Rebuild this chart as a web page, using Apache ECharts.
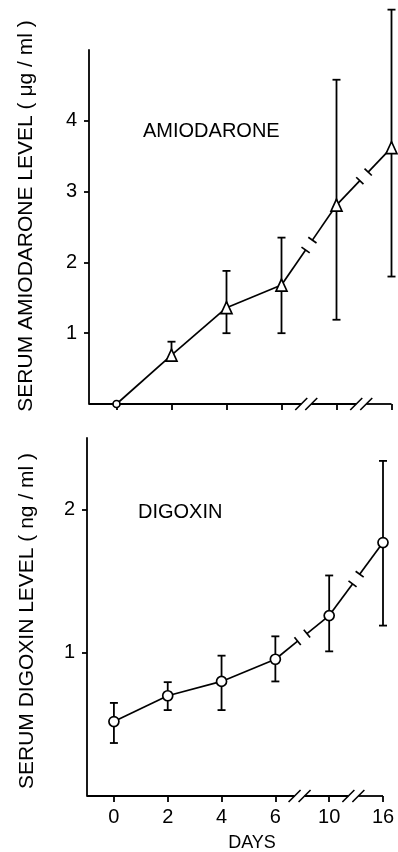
<!DOCTYPE html>
<html><head><meta charset="utf-8">
<script src="https://cdn.jsdelivr.net/npm/echarts@6/dist/echarts.min.js"></script>
<style>html,body{margin:0;padding:0;background:#fff}#c{width:398px;height:852px}</style>
</head><body><div id="c"></div>
<script>
// ---- data ----
const days = ['0', '2', '4', '6', '10', '16'];
const amioMean = [0, 0.69, 1.36, 1.68, 2.81, 3.62];
const amioLow  = [null, 0.62, 1.00, 1.00, 1.19, 1.80];
const amioHigh = [null, 0.88, 1.88, 2.35, 4.58, 5.57];
const digMean = [0.52, 0.70, 0.80, 0.955, 1.26, 1.77];
const digLow  = [0.37, 0.60, 0.60, 0.80, 1.01, 1.19];
const digHigh = [0.65, 0.795, 0.98, 1.115, 1.54, 2.34];
const amioTicks = [1, 2, 3, 4];
const digTicks = [1, 2];
const xTickIdx = [0, 1, 2, 3, 4, 5];
const brokenSegments = [3, 4];        // segments 6→10 and 10→16 are broken
const axisBreaks = [3.45, 4.45];      // positions of the axis breaks (category index)

const FONT = '"Liberation Sans", Arial, sans-serif';
const LW = 1.8;
const BLACK = '#000';

function ln(x1, y1, x2, y2, w) {
  return { type: 'line', shape: { x1, y1, x2, y2 }, style: { stroke: BLACK, lineWidth: w || LW } };
}

function errRender(lows, highs) {
  return function (params, api) {
    const i = params.dataIndex;
    if (highs[i] == null) return null;
    const t = api.coord([i, highs[i]]);
    const b = api.coord([i, lows[i]]);
    const w = 4;
    return { type: 'group', children: [
      ln(t[0], t[1], b[0], b[1]),
      ln(t[0] - w, t[1], t[0] + w, t[1]),
      ln(b[0] - w, b[1], b[0] + w, b[1])
    ]};
  };
}

function lineRender(means) {
  return function (params, api) {
    const i = params.dataIndex;
    const p1 = api.coord([i, means[i]]);
    const p2 = api.coord([i + 1, means[i + 1]]);
    if (brokenSegments.indexOf(i) < 0) {
      return ln(p1[0], p1[1], p2[0], p2[1], 1.7);
    }
    const dx = p2[0] - p1[0], dy = p2[1] - p1[1];
    const L = Math.sqrt(dx * dx + dy * dy);
    const ux = dx / L, uy = dy / L, nx = -uy, ny = ux;
    const mx = (p1[0] + p2[0]) / 2, my = (p1[1] + p2[1]) / 2;
    const g = 6, t = 5;
    const ax = mx - ux * g, ay = my - uy * g, bx = mx + ux * g, by = my + uy * g;
    return { type: 'group', children: [
      ln(p1[0], p1[1], ax, ay, 1.7),
      ln(ax - nx * t, ay - ny * t, ax + nx * t, ay + ny * t, 1.7),
      ln(bx - nx * t, by - ny * t, bx + nx * t, by + ny * t, 1.7),
      ln(bx, by, p2[0], p2[1], 1.7)
    ]};
  };
}

function axisRender(params, api) {
  const y = api.coord([0, 0])[1];
  const x0 = api.coord([-0.5, 0])[0];
  const x1 = api.coord([5, 0])[0];
  const children = [];
  let start = x0;
  axisBreaks.forEach(function (bp) {
    const c = api.coord([bp, 0])[0];
    const c1 = c - 5, c2 = c + 5;
    children.push(ln(start, y, c1, y));
    children.push(ln(c1 - 6, y + 6, c1 + 6, y - 6, 1.6));
    children.push(ln(c2 - 6, y + 6, c2 + 6, y - 6, 1.6));
    start = c2;
  });
  children.push(ln(start, y, x1, y));
  return { type: 'group', children: children };
}

function xAxisCfg(gi, showLabels) {
  return {
    type: 'value', gridIndex: gi, min: -0.5, max: 5,
    axisLine: { show: false },
    splitLine: { show: false },
    axisTick: { show: true, inside: false, length: 6, customValues: xTickIdx,
      lineStyle: { color: BLACK, width: LW } },
    axisLabel: { show: showLabels, customValues: xTickIdx, margin: 11,
      color: BLACK, fontSize: 20, fontFamily: FONT,
      formatter: function (v) { return days[Math.round(v)]; } }
  };
}

function yAxisCfg(gi, max, ticks) {
  return {
    type: 'value', gridIndex: gi, min: 0, max: max,
    axisLine: { show: true, onZero: false, lineStyle: { color: BLACK, width: LW } },
    splitLine: { show: false },
    axisTick: { show: true, inside: false, length: 5, customValues: ticks,
      lineStyle: { color: BLACK, width: LW } },
    axisLabel: { show: true, customValues: ticks, margin: 12,
      color: BLACK, fontSize: 20, fontFamily: FONT }
  };
}

const idx = days.map(function (d, i) { return i; });

const option = {
  animation: false,
  backgroundColor: '#fff',
  grid: [
    { left: 89, top: 50, width: 302.5, height: 354 },
    { left: 87, top: 438, width: 296, height: 358 }
  ],
  xAxis: [xAxisCfg(0, false), xAxisCfg(1, true)],
  yAxis: [yAxisCfg(0, 5, amioTicks), yAxisCfg(1, 2.5, digTicks)],
  graphic: [
    { type: 'text', x: 26, y: 216, rotation: Math.PI / 2,
      style: { text: 'SERUM AMIODARONE LEVEL ( μg / ml )', font: '21px ' + FONT, fill: BLACK,
        align: 'center', verticalAlign: 'middle' } },
    { type: 'text', x: 27, y: 621, rotation: Math.PI / 2,
      style: { text: 'SERUM DIGOXIN LEVEL ( ng / ml )', font: '21px ' + FONT, fill: BLACK,
        align: 'center', verticalAlign: 'middle' } },
    { type: 'text', x: 143, y: 131,
      style: { text: 'AMIODARONE', font: '20px ' + FONT, fill: BLACK, align: 'left', verticalAlign: 'middle' } },
    { type: 'text', x: 138, y: 512,
      style: { text: 'DIGOXIN', font: '20px ' + FONT, fill: BLACK, align: 'left', verticalAlign: 'middle' } },
    { type: 'text', x: 252, y: 843,
      style: { text: 'DAYS', font: '18px ' + FONT, fill: BLACK, align: 'center', verticalAlign: 'middle' } }
  ],
  series: [
    // broken x-axis lines
    { type: 'custom', xAxisIndex: 0, yAxisIndex: 0, clip: false, z: 1, silent: true,
      data: [[0, 0]], renderItem: axisRender },
    { type: 'custom', xAxisIndex: 1, yAxisIndex: 1, clip: false, z: 1, silent: true,
      data: [[0, 0]], renderItem: axisRender },
    // connecting lines
    { type: 'custom', xAxisIndex: 0, yAxisIndex: 0, clip: false, z: 2, silent: true,
      data: idx.slice(0, -1).map(function (i) { return [i, amioMean[i]]; }), renderItem: lineRender(amioMean) },
    { type: 'custom', xAxisIndex: 1, yAxisIndex: 1, clip: false, z: 2, silent: true,
      data: idx.slice(0, -1).map(function (i) { return [i, digMean[i]]; }), renderItem: lineRender(digMean) },
    // error bars
    { type: 'custom', xAxisIndex: 0, yAxisIndex: 0, clip: false, z: 3, silent: true,
      data: idx.map(function (i) { return [i, amioMean[i]]; }), renderItem: errRender(amioLow, amioHigh) },
    { type: 'custom', xAxisIndex: 1, yAxisIndex: 1, clip: false, z: 3, silent: true,
      data: idx.map(function (i) { return [i, digMean[i]]; }), renderItem: errRender(digLow, digHigh) },
    // markers
    { type: 'scatter', xAxisIndex: 0, yAxisIndex: 0, z: 4, silent: true, clip: false,
      itemStyle: { color: '#fff', borderColor: BLACK, borderWidth: 1.7, opacity: 1 },
      data: idx.map(function (i) {
        return { value: [i, amioMean[i]], symbol: i === 0 ? 'circle' : 'triangle', symbolSize: i === 0 ? 7 : [11, 12] };
      }) },
    { type: 'scatter', xAxisIndex: 1, yAxisIndex: 1, z: 4, silent: true, clip: false,
      symbol: 'circle', symbolSize: 10,
      itemStyle: { color: '#fff', borderColor: BLACK, borderWidth: 1.7, opacity: 1 },
      data: idx.map(function (i) { return [i, digMean[i]]; }) }
  ]
};

const chart = echarts.init(document.getElementById('c'), null, { renderer: 'canvas' });
chart.setOption(option);
</script>
</body></html>
